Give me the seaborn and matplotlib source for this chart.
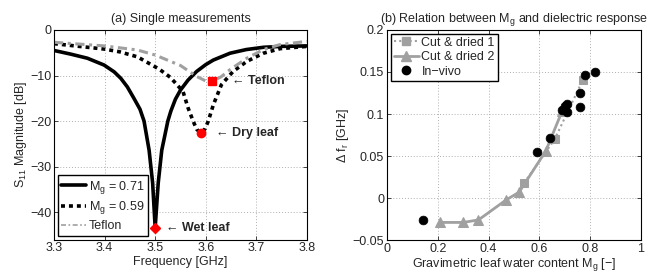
import matplotlib
matplotlib.use("Agg")
import matplotlib.pyplot as plt
import numpy as np
import seaborn as sns
from matplotlib.lines import Line2D

# (a) S11 magnitude curves
freq_071 = [3.30, 3.333, 3.366, 3.399, 3.419, 3.432, 3.445, 3.458, 3.47,
            3.478, 3.488, 3.495, 3.50, 3.506, 3.513, 3.525, 3.531, 3.54,
            3.55, 3.565, 3.582, 3.60, 3.615, 3.648, 3.68, 3.714, 3.75, 3.80]
s11_071 = [-4.5, -5.3, -6.2, -7.7, -9.2, -10.6, -12.5, -15.0, -17.4,
           -20.0, -26.4, -33.6, -43.4, -33.6, -26.4, -20.0, -17.8, -15.2,
           -13.2, -11.0, -9.1, -7.6, -6.6, -5.1, -4.3, -3.8, -3.6, -3.5]
freq_059 = [3.30, 3.35, 3.40, 3.43, 3.465, 3.508, 3.53, 3.555, 3.565, 3.575,
            3.582, 3.59, 3.598, 3.605, 3.615, 3.631, 3.654, 3.681, 3.714,
            3.747, 3.80]
s11_059 = [-3.0, -3.6, -4.2, -4.8, -5.9, -8.6, -10.4, -13.5, -17.1, -20.0,
           -21.8, -22.6, -21.8, -20.0, -16.4, -12.0, -9.1, -6.9, -5.1, -4.1,
           -3.6]
freq_tef = [3.30, 3.40, 3.465, 3.50, 3.55, 3.582, 3.60, 3.612, 3.63, 3.648,
            3.681, 3.714, 3.747, 3.80]
s11_tef = [-2.7, -3.5, -4.4, -5.5, -7.8, -10.2, -11.2, -11.3, -10.3, -8.7,
           -6.2, -4.3, -3.2, -2.5]
res_labels = ["← Wet leaf", "← Dry leaf", "← Teflon"]
res_freq = [3.50, 3.59, 3.612]
res_s11 = [-43.4, -22.6, -11.3]

# (b) resonance shift vs gravimetric water content
mg_cut1 = [0.54, 0.66, 0.77]
df_cut1 = [0.018, 0.070, 0.140]
mg_cut2 = [0.21, 0.30, 0.36, 0.47, 0.52, 0.625, 0.69]
df_cut2 = [-0.029, -0.029, -0.026, -0.002, 0.007, 0.056, 0.104]
mg_vivo = [0.14, 0.59, 0.64, 0.69, 0.70, 0.71, 0.71, 0.76, 0.76, 0.78, 0.82]
df_vivo = [-0.026, 0.055, 0.072, 0.105, 0.109, 0.112, 0.102, 0.125, 0.108,
           0.146, 0.150]

sns.set_style("white")
plt.rcParams["font.family"] = ["Liberation Sans", "DejaVu Sans"]
plt.rcParams["mathtext.default"] = "regular"
FS = 9

GREY = "#a0a0a0"
fig = plt.figure(figsize=(6.52, 2.75), dpi=100)
ax1 = fig.add_axes([0.0828, 0.129, 0.388, 0.762])
ax2 = fig.add_axes([0.5936, 0.127, 0.3896, 0.764])

# ---- panel (a)
sns.lineplot(x=freq_071, y=s11_071, ax=ax1, color="black", lw=2.6,
             sort=False, estimator=None)
sns.lineplot(x=freq_059, y=s11_059, ax=ax1, color="black", lw=2.6,
             linestyle=(0, (1.1, 1.1)), sort=False, estimator=None)
sns.lineplot(x=freq_tef, y=s11_tef, ax=ax1, color=GREY, lw=2.2,
             linestyle=(0, (3, 1.5, 1, 1.5)), sort=False, estimator=None)
offsets = {"D": 0.021, "o": 0.031, "s": 0.039}
for m, f, s, lab in zip(["D", "o", "s"], res_freq, res_s11, res_labels):
    ax1.plot(f, s, marker=m, color="red", ms=6 if m != "D" else 5.5, mec="red")
    ax1.text(f + offsets[m], s, lab, fontweight="bold", va="center",
             ha="left", fontsize=FS)
ax1.set_xlim(3.3, 3.8)
ax1.set_ylim(-46, 0)
ax1.set_xticks(np.arange(3.3, 3.81, 0.1))
ax1.set_xticklabels(["3.3", "3.4", "3.5", "3.6", "3.7", "3.8"])
ax1.set_yticks([-40, -30, -20, -10, 0])
ax1.set_xlabel("Frequency [GHz]", labelpad=1)
ax1.set_ylabel("S$_{11}$ Magnitude [dB]", labelpad=1)
ax1.set_title("(a) Single measurements", fontsize=FS, pad=6)
h1 = [Line2D([], [], color="black", lw=2.6),
      Line2D([], [], color="black", lw=2.6, linestyle=(0, (1.1, 1.1))),
      Line2D([], [], color=GREY, lw=1.2, linestyle=(0, (3, 1.5, 1, 1.5)))]
leg1 = ax1.legend(h1, ["M$_g$ = 0.71", "M$_g$ = 0.59", "Teflon"],
                  loc="lower left", fontsize=FS, handlelength=2.0,
                  handletextpad=0.2, borderpad=0.3, labelspacing=0.3,
                  fancybox=False, framealpha=1, edgecolor="black",
                  borderaxespad=0.3)
leg1.get_frame().set_linewidth(1.0)

# ---- panel (b)
sns.lineplot(x=mg_cut1, y=df_cut1, ax=ax2, color=GREY, lw=1.5,
             linestyle=(0, (1, 1.5)), marker="s", ms=5.5, mec=GREY,
             sort=False, estimator=None)
sns.lineplot(x=mg_cut2, y=df_cut2, ax=ax2, color=GREY, lw=2,
             marker="^", ms=6.5, mec=GREY, sort=False, estimator=None)
sns.scatterplot(x=mg_vivo, y=df_vivo, ax=ax2, color="black", s=40,
                edgecolor="black", zorder=5)
ax2.set_xlim(0, 1)
ax2.set_ylim(-0.05, 0.2)
ax2.set_xticks([0, 0.2, 0.4, 0.6, 0.8, 1])
ax2.set_xticklabels(["0", "0.2", "0.4", "0.6", "0.8", "1"])
ax2.set_yticks([-0.05, 0, 0.05, 0.1, 0.15, 0.2])
ax2.set_yticklabels(["\u22120.05", "0", "0.05", "0.1", "0.15", "0.2"])
ax2.set_xlabel("Gravimetric leaf water content M$_g$ [\u2212]", labelpad=1)
ax2.set_ylabel("$\\Delta$ f$_r$ [GHz]", labelpad=1)
ax2.set_title("(b) Relation between M$_g$ and dielectric response",
              fontsize=FS, pad=6)
h2 = [Line2D([], [], color=GREY, lw=1.5, linestyle=(0, (1, 1.5)),
             marker="s", ms=5.5, mec=GREY),
      Line2D([], [], color=GREY, lw=2, marker="^", ms=6.5, mec=GREY),
      Line2D([], [], color="black", lw=0, marker="o", ms=6)]
leg2 = ax2.legend(h2, ["Cut & dried 1", "Cut & dried 2", "In\u2212vivo"],
                  loc="upper left", fontsize=FS, handlelength=2.0,
                  handletextpad=0.2, borderpad=0.25, labelspacing=0.2,
                  fancybox=False, framealpha=1, edgecolor="black",
                  borderaxespad=0.3)
leg2.get_frame().set_linewidth(1.0)

for ax in (ax1, ax2):
    ax.grid(True, linestyle=(0, (1, 2)), color="#b0b0b0", lw=0.7)
    ax.tick_params(direction="in", length=3, width=0.6, labelsize=FS,
                   pad=2, top=True, right=True, bottom=True, left=True)
    for sp in ax.spines.values():
        sp.set_visible(True)
        sp.set_color("black")
        sp.set_linewidth(0.8)
    ax.xaxis.label.set_size(FS)
    ax.yaxis.label.set_size(FS)

fig.savefig("out.png", dpi=100)
